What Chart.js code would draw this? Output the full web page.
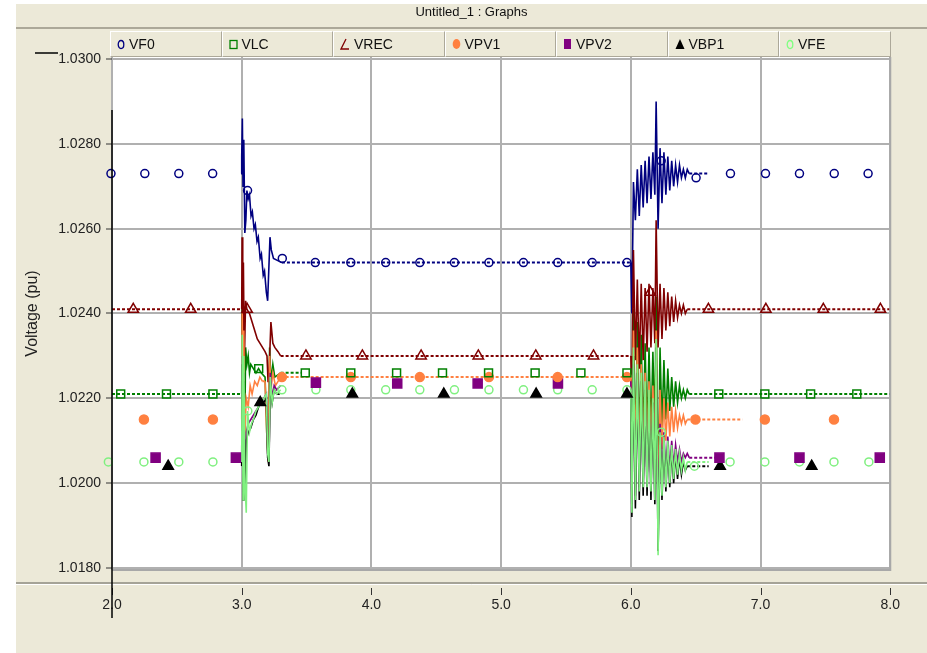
<!DOCTYPE html>
<html><head><meta charset="utf-8">
<script src="https://cdn.jsdelivr.net/npm/chart.js@4.4.1/dist/chart.umd.min.js"></script>
<style>
html,body{margin:0;padding:0;background:#fff;}
#wrap{position:relative;width:927px;height:653px;overflow:hidden;background:#fff;}
#panel{position:absolute;left:16px;top:4px;right:0;bottom:0;background:#ECE9D8;}
#title{position:absolute;left:16px;right:0;top:4px;height:23px;line-height:23px;text-align:center;font:13px "Liberation Sans",Arial,sans-serif;color:#111;border-bottom:2px solid #ACA899;z-index:3;}
#chart{position:absolute;left:0;top:0;z-index:2;}
#legend{position:absolute;left:110px;top:31px;height:26px;display:flex;z-index:3;}
.cell{box-sizing:border-box;width:111.5px;height:26px;border-left:1px solid #fff;border-top:1px solid #fff;border-right:1px solid #ACA899;border-bottom:1px solid #ACA899;font:14px "Liberation Sans",Arial,sans-serif;color:#111;display:flex;align-items:center;padding-left:6px;}
.cell svg{margin-right:4px;}
</style></head>
<body><div id="wrap">
<div id="panel"></div>
<div id="title">Untitled_1 : Graphs</div>
<div id="legend"></div>
<canvas id="chart" width="927" height="653"></canvas>
</div>
<script>
// ---------- data ----------
const seriesNames = ['VF0','VLC','VREC','VPV1','VPV2','VBP1','VFE'];
const xTicks = [2.0,3.0,4.0,5.0,6.0,7.0,8.0];
const yTicks = [1.018,1.020,1.022,1.024,1.026,1.028,1.030];

// first disturbance (t = 3.0 s) : [time, value]
const vf0Fault1 = [[2.995,1.0273],[3.000,1.0277],[3.005,1.0286],[3.010,1.0270],[3.016,1.0281],[3.024,1.0259],[3.032,1.0262],[3.040,1.0269],[3.050,1.0267],[3.060,1.0268],[3.072,1.0263],[3.082,1.0264],[3.095,1.0260],[3.105,1.0261],[3.118,1.0257],[3.128,1.0258],[3.142,1.0253],[3.152,1.0254],[3.166,1.0249],[3.176,1.0250],[3.190,1.0245],[3.200,1.0243],[3.218,1.0258],[3.228,1.0255],[3.245,1.0253],[3.310,1.0252]];
const vlcFault1 = [[2.000,1.0221],[3.000,1.0221],[3.004,1.0245],[3.010,1.0200],[3.016,1.0240],[3.022,1.0205],[3.030,1.0232],[3.040,1.0228],[3.050,1.0230],[3.060,1.0226],[3.070,1.0228],[3.090,1.0227],[3.110,1.0226],[3.130,1.0227],[3.150,1.0226],[3.180,1.0225],[3.195,1.0210],[3.205,1.0206],[3.215,1.0232],[3.225,1.0224],[3.240,1.0228],[3.255,1.0225],[3.300,1.0226],[3.460,1.0226]];
const vrecFault1 = [[2.000,1.0241],[3.000,1.0241],[3.003,1.0258],[3.008,1.0215],[3.013,1.0252],[3.020,1.0228],[3.030,1.0243],[3.040,1.0241],[3.060,1.0240],[3.080,1.0238],[3.100,1.0236],[3.120,1.0234],[3.140,1.0233],[3.160,1.0232],[3.180,1.0231],[3.195,1.0230],[3.203,1.0224],[3.210,1.0225],[3.225,1.0238],[3.240,1.0233],[3.255,1.0232],[3.280,1.0231],[3.300,1.0230]];
const vpv1Fault1 = [[3.000,1.0215],[3.004,1.0240],[3.010,1.0205],[3.016,1.0236],[3.022,1.0210],[3.035,1.0220],[3.050,1.0218],[3.065,1.0223],[3.080,1.0221],[3.100,1.0224],[3.120,1.0223],[3.140,1.0225],[3.160,1.0224],[3.180,1.0224],[3.195,1.0210],[3.205,1.0205],[3.215,1.0230],[3.225,1.0222],[3.240,1.0226],[3.260,1.0223],[3.300,1.0225]];
const vpv2Fault1 = [[3.000,1.0206],[3.004,1.0230],[3.010,1.0198],[3.016,1.0226],[3.022,1.0200],[3.035,1.0212],[3.050,1.0214],[3.070,1.0215],[3.090,1.0216],[3.110,1.0217],[3.130,1.0218],[3.150,1.0219],[3.170,1.0220],[3.190,1.0221],[3.200,1.0207],[3.210,1.0205],[3.220,1.0226],[3.235,1.0220],[3.250,1.0223],[3.270,1.0222],[3.300,1.0223]];
const vbp1Fault1 = [[3.000,1.0204],[3.004,1.0228],[3.010,1.0196],[3.016,1.0224],[3.022,1.0198],[3.035,1.0210],[3.050,1.0212],[3.070,1.0213],[3.090,1.0215],[3.110,1.0216],[3.130,1.0218],[3.150,1.0219],[3.170,1.0219],[3.190,1.0220],[3.200,1.0206],[3.210,1.0204],[3.220,1.0224],[3.235,1.0219],[3.250,1.0222],[3.270,1.0221],[3.300,1.0221]];
const vfeFault1 = [[3.000,1.0205],[3.004,1.0235],[3.010,1.0196],[3.016,1.0230],[3.025,1.0200],[3.035,1.0193],[3.045,1.0217],[3.060,1.0212],[3.075,1.0214],[3.090,1.0215],[3.110,1.0217],[3.130,1.0218],[3.150,1.0219],[3.170,1.0220],[3.190,1.0221],[3.200,1.0207],[3.210,1.0205],[3.220,1.0225],[3.235,1.0219],[3.250,1.0222],[3.270,1.0221],[3.300,1.0222]];

// second disturbance (t = 6.0 s), common sample times
const t2 = [6.000,6.008,6.020,6.035,6.050,6.065,6.080,6.095,6.110,6.125,6.140,6.155,6.170,6.185,6.195,6.210,6.225,6.240,6.255,6.270,6.285,6.300,6.315,6.330,6.345,6.360,6.375,6.390,6.405,6.420,6.435,6.450,6.465,6.480,6.500,6.550,6.600];
const vf0T2  = [1.0252,1.0240,1.0271,1.0262,1.0274,1.0263,1.0275,1.0265,1.0276,1.0266,1.0277,1.0267,1.0278,1.0268,1.0290,1.0260,1.0279,1.0266,1.0278,1.0268,1.0277,1.0269,1.0276,1.0270,1.0275,1.0271,1.0275,1.0272,1.0274,1.0272,1.0274,1.0273,1.0273,1.0273,1.0273,1.0273,1.0273];
const vlcT2  = [1.0226,1.0200,1.0241,1.0205,1.0238,1.0207,1.0235,1.0209,1.0233,1.0210,1.0232,1.0211,1.0231,1.0212,1.0244,1.0195,1.0232,1.0213,1.0229,1.0215,1.0227,1.0217,1.0225,1.0218,1.0224,1.0219,1.0223,1.0220,1.0222,1.0220,1.0222,1.0221,1.0221,1.0221,1.0221,1.0221,1.0221];
const vrecT2 = [1.0230,1.0220,1.0255,1.0229,1.0248,1.0227,1.0247,1.0229,1.0246,1.0231,1.0247,1.0232,1.0246,1.0233,1.0262,1.0232,1.0247,1.0234,1.0246,1.0236,1.0245,1.0237,1.0244,1.0238,1.0243,1.0239,1.0242,1.0240,1.0242,1.0240,1.0241,1.0241,1.0241,1.0241,1.0241,1.0241,1.0241];
const vpv1T2 = [1.0225,1.0205,1.0236,1.0203,1.0232,1.0204,1.0228,1.0205,1.0226,1.0206,1.0224,1.0207,1.0223,1.0206,1.0236,1.0192,1.0222,1.0208,1.0220,1.0210,1.0219,1.0211,1.0218,1.0212,1.0217,1.0213,1.0216,1.0214,1.0216,1.0214,1.0215,1.0215,1.0215,1.0215,1.0215,1.0215,1.0215];
const vpv2T2 = [1.0224,1.0195,1.0228,1.0197,1.0224,1.0199,1.0221,1.0200,1.0219,1.0201,1.0217,1.0201,1.0216,1.0200,1.0230,1.0188,1.0214,1.0201,1.0212,1.0202,1.0211,1.0203,1.0210,1.0204,1.0209,1.0205,1.0208,1.0205,1.0207,1.0206,1.0207,1.0206,1.0206,1.0206,1.0206,1.0206,1.0206];
const vbp1T2 = [1.0221,1.0192,1.0230,1.0194,1.0226,1.0196,1.0224,1.0197,1.0222,1.0197,1.0220,1.0196,1.0219,1.0195,1.0232,1.0184,1.0211,1.0196,1.0210,1.0198,1.0209,1.0199,1.0208,1.0200,1.0207,1.0201,1.0206,1.0202,1.0205,1.0203,1.0204,1.0204,1.0204,1.0204,1.0204,1.0204,1.0204];
const vfeT2  = [1.0222,1.0193,1.0232,1.0196,1.0228,1.0198,1.0226,1.0199,1.0224,1.0199,1.0222,1.0198,1.0220,1.0196,1.0234,1.0183,1.0212,1.0197,1.0211,1.0199,1.0210,1.0200,1.0209,1.0201,1.0208,1.0202,1.0207,1.0203,1.0206,1.0203,1.0205,1.0205,1.0205,1.0205,1.0205,1.0205,1.0205];

// steady tails after the second disturbance
const vlcTail  = [[8.000,1.0221]];
const vrecTail = [[8.000,1.0241]];
const vpv1Tail = [[6.860,1.0215]];
const vpv2Tail = [[6.680,1.0206]];

// marker samples
const vf0MarkT  = [1.992,2.253,2.515,2.776,3.045,3.313,3.567,3.841,4.110,4.373,4.640,4.906,5.172,5.436,5.702,5.970,6.234,6.503,6.768,7.038,7.300,7.568,7.829];
const vf0MarkV  = [1.0273,1.0273,1.0273,1.0273,1.0269,1.0253,1.0252,1.0252,1.0252,1.0252,1.0252,1.0252,1.0252,1.0252,1.0252,1.0252,1.0276,1.0272,1.0273,1.0273,1.0273,1.0273,1.0273];
const vlcMarkT  = [2.067,2.420,2.778,3.131,3.490,3.841,4.194,4.548,4.903,5.262,5.615,5.970,6.678,7.033,7.386,7.742];
const vlcMarkV  = [1.0221,1.0221,1.0221,1.0227,1.0226,1.0226,1.0226,1.0226,1.0226,1.0226,1.0226,1.0226,1.0221,1.0221,1.0221,1.0221];
const vrecMarkT = [2.164,2.607,3.042,3.495,3.930,4.383,4.824,5.267,5.712,6.150,6.598,7.041,7.484,7.924];
const vrecMarkV = [1.0241,1.0241,1.0241,1.0230,1.0230,1.0230,1.0230,1.0230,1.0230,1.0245,1.0241,1.0241,1.0241,1.0241];
const vpv1MarkT = [2.246,2.778,3.310,3.841,4.373,4.906,5.436,5.970,6.498,7.033,7.566];
const vpv1MarkV = [1.0215,1.0215,1.0225,1.0225,1.0225,1.0225,1.0225,1.0225,1.0215,1.0215,1.0215];
const vpv2MarkT = [2.336,2.955,3.572,4.199,4.819,5.438,6.683,7.300,7.919];
const vpv2MarkV = [1.0206,1.0206,1.02237,1.02235,1.02235,1.02235,1.0206,1.0206,1.0206];
const vbp1MarkT = [2.433,3.143,3.853,4.558,5.270,5.970,6.688,7.394];
const vbp1MarkV = [1.0204,1.0219,1.0221,1.0221,1.0221,1.0221,1.0204,1.0204];
const vfeMarkT  = [1.972,2.246,2.515,2.778,3.047,3.310,3.572,3.841,4.110,4.373,4.640,4.906,5.172,5.436,5.702,5.970,6.235,6.490,6.765,7.033,7.300,7.566,7.835];
const vfeMarkV  = [1.0205,1.0205,1.0205,1.0205,1.0217,1.0222,1.0222,1.0222,1.0222,1.0222,1.0222,1.0222,1.0222,1.0222,1.0222,1.0222,1.0212,1.0204,1.0205,1.0205,1.0205,1.0205,1.0205];

// ---------- assembly ----------
const zipT = (ts, vs) => ts.map((t, i) => [t, vs[i]]);
function pieces(...parts) { // parts are arrays of [t,v]; a gap is inserted between parts
  const out = [];
  parts.forEach((p, k) => {
    if (k > 0) out.push({x: p[0][0], y: null});
    p.forEach(([x, y]) => out.push({x, y}));
  });
  return out;
}
const lineData = {
  VF0:  pieces(vf0Fault1.concat(zipT(t2, vf0T2))),
  VLC:  pieces(vlcFault1, zipT(t2, vlcT2).concat(vlcTail)),
  VREC: pieces(vrecFault1.concat(zipT(t2, vrecT2), vrecTail)),
  VPV1: pieces(vpv1Fault1.concat(zipT(t2, vpv1T2), vpv1Tail)),
  VPV2: pieces(vpv2Fault1, zipT(t2, vpv2T2).concat(vpv2Tail)),
  VBP1: pieces(vbp1Fault1, zipT(t2, vbp1T2)),
  VFE:  pieces(vfeFault1, zipT(t2, vfeT2))
};
const markData = {
  VF0: zipT(vf0MarkT, vf0MarkV), VLC: zipT(vlcMarkT, vlcMarkV), VREC: zipT(vrecMarkT, vrecMarkV),
  VPV1: zipT(vpv1MarkT, vpv1MarkV), VPV2: zipT(vpv2MarkT, vpv2MarkV), VBP1: zipT(vbp1MarkT, vbp1MarkV),
  VFE: zipT(vfeMarkT, vfeMarkV)
};

// ---------- styles ----------
const style = {
  VF0:  {color:'#000080', shape:'circle',   r:4,   fill:false},
  VLC:  {color:'#008000', shape:'rect',     r:5.6, fill:false},
  VREC: {color:'#800000', shape:'triangle', r:6,   fill:false},
  VPV1: {color:'#FF8040', shape:'circle',   r:4.5, fill:true},
  VPV2: {color:'#800080', shape:'rect',     r:6.4, fill:true},
  VBP1: {color:'#000000', shape:'triangle', r:6,   fill:true},
  VFE:  {color:'#80F080', shape:'circle',   r:4,   fill:false}
};
const icons = {
  VF0:  '<svg width="8" height="11"><ellipse cx="4" cy="5.5" rx="2.8" ry="4" fill="none" stroke="#000080" stroke-width="1.3"/></svg>',
  VLC:  '<svg width="9" height="11"><rect x="1" y="1.5" width="7" height="8" fill="none" stroke="#008000" stroke-width="1.3"/></svg>',
  VREC: '<svg width="10" height="12"><polyline points="6,1 1,11 9,11" fill="none" stroke="#800000" stroke-width="1.3"/></svg>',
  VPV1: '<svg width="9" height="12"><ellipse cx="4.5" cy="6" rx="3.8" ry="5" fill="#FF8040"/></svg>',
  VPV2: '<svg width="9" height="12"><rect x="1" y="1" width="7" height="10" fill="#800080"/></svg>',
  VBP1: '<svg width="10" height="12"><polygon points="5,1 0.5,11 9.5,11" fill="#000"/></svg>',
  VFE:  '<svg width="8" height="11"><ellipse cx="4" cy="5.5" rx="2.8" ry="4" fill="none" stroke="#80FF80" stroke-width="1.3"/></svg>'
};
const legend = document.getElementById('legend');
seriesNames.forEach(n => {
  const d = document.createElement('div'); d.className = 'cell';
  d.innerHTML = icons[n] + '<span>' + n + '</span>';
  legend.appendChild(d);
});

const datasets = [];
seriesNames.forEach((n, i) => {
  const s = style[n];
  datasets.push({
    label: n, data: lineData[n], borderColor: s.color, borderWidth: 1.6,
    pointRadius: 0, fill: false, tension: 0, spanGaps: false, order: 10 - i,
    segment: {
      borderDash: c => (c.p0.parsed.y === c.p1.parsed.y ? [3, 2] : undefined),
      borderWidth: c => (c.p0.parsed.y === c.p1.parsed.y ? 2 : undefined)
    }
  });
});
seriesNames.forEach((n, i) => {
  const s = style[n];
  datasets.push({
    label: n + ' markers', data: markData[n].map(([x, y]) => ({x, y})), showLine: false,
    pointStyle: s.shape, pointRadius: s.r, pointBorderWidth: 1.5,
    pointBorderColor: s.color, pointBackgroundColor: s.fill ? s.color : 'rgba(0,0,0,0)',
    clip: false, order: 0
  });
});

const FONT = '"Liberation Sans", Arial, sans-serif';
const framePlugin = {
  id: 'frame',
  beforeDraw(chart) {
    const {ctx, chartArea: a} = chart;
    ctx.save();
    ctx.fillStyle = '#fff';
    ctx.fillRect(a.left, a.top, a.right - a.left, a.bottom - a.top);
    ctx.restore();
  },
  afterDraw(chart) {
    const {ctx, chartArea: a} = chart;
    const xs = chart.scales.x;
    ctx.save();
    // plot frame
    ctx.strokeStyle = '#A8A8A8'; ctx.lineWidth = 2;
    ctx.beginPath();
    ctx.moveTo(a.right, a.top); ctx.lineTo(a.right, a.bottom); ctx.lineTo(a.left, a.bottom);
    ctx.stroke();
    // separator under plot
    ctx.strokeStyle = '#A5A397'; ctx.lineWidth = 2;
    ctx.beginPath(); ctx.moveTo(16, 583); ctx.lineTo(927, 583); ctx.stroke();
    ctx.strokeStyle = '#fff'; ctx.lineWidth = 1;
    ctx.beginPath(); ctx.moveTo(16, 584.5); ctx.lineTo(927, 584.5); ctx.stroke();
    // x tick marks
    ctx.strokeStyle = '#333'; ctx.lineWidth = 1;
    xTicks.forEach(v => {
      const px = Math.round(xs.getPixelForValue(v)) + 0.5;
      ctx.beginPath(); ctx.moveTo(px, 588); ctx.lineTo(px, 595); ctx.stroke();
    });
    // cursor lines
    const cx = xs.getPixelForValue(xTicks[0]);
    ctx.strokeStyle = '#000'; ctx.lineWidth = 1.5;
    ctx.beginPath(); ctx.moveTo(cx, 110); ctx.lineTo(cx, 618); ctx.stroke();
    ctx.beginPath(); ctx.moveTo(35, 53); ctx.lineTo(58, 53); ctx.stroke();
    ctx.restore();
  }
};

new Chart(document.getElementById('chart'), {
  type: 'line',
  data: {datasets},
  options: {
    responsive: false, animation: false, events: [], devicePixelRatio: 1,
    layout: {padding: {left: 20, top: 57, right: 34, bottom: 0}},
    plugins: {legend: {display: false}, tooltip: {enabled: false}},
    scales: {
      x: {
        type: 'linear', min: 2, max: 8,
        afterBuildTicks: s => { s.ticks = xTicks.map(v => ({value: v})); },
        afterFit: s => { s.height = 83; },
        grid: {color: '#B0B0B0', lineWidth: 2, drawTicks: false},
        border: {display: false},
        ticks: {padding: 27, color: '#222', font: {family: FONT, size: 14}, maxRotation: 0, autoSkip: false,
                callback: v => Number(v).toFixed(1)}
      },
      y: {
        type: 'linear', min: 1.01795, max: 1.03005,
        afterBuildTicks: s => { s.ticks = yTicks.map(v => ({value: v})); },
        afterFit: s => { s.width = 92; },
        grid: {color: '#B0B0B0', lineWidth: 2, tickLength: 6, tickColor: '#333', tickWidth: 1},
        border: {display: false},
        ticks: {padding: 5, color: '#222', font: {family: FONT, size: 14}, autoSkip: false,
                callback: v => Number(v).toFixed(4)},
        title: {display: true, text: 'Voltage (pu)', color: '#222', font: {family: FONT, size: 16}, padding: {top: 3, bottom: 0}}
      }
    }
  },
  plugins: [framePlugin]
});
</script>
</body></html>
